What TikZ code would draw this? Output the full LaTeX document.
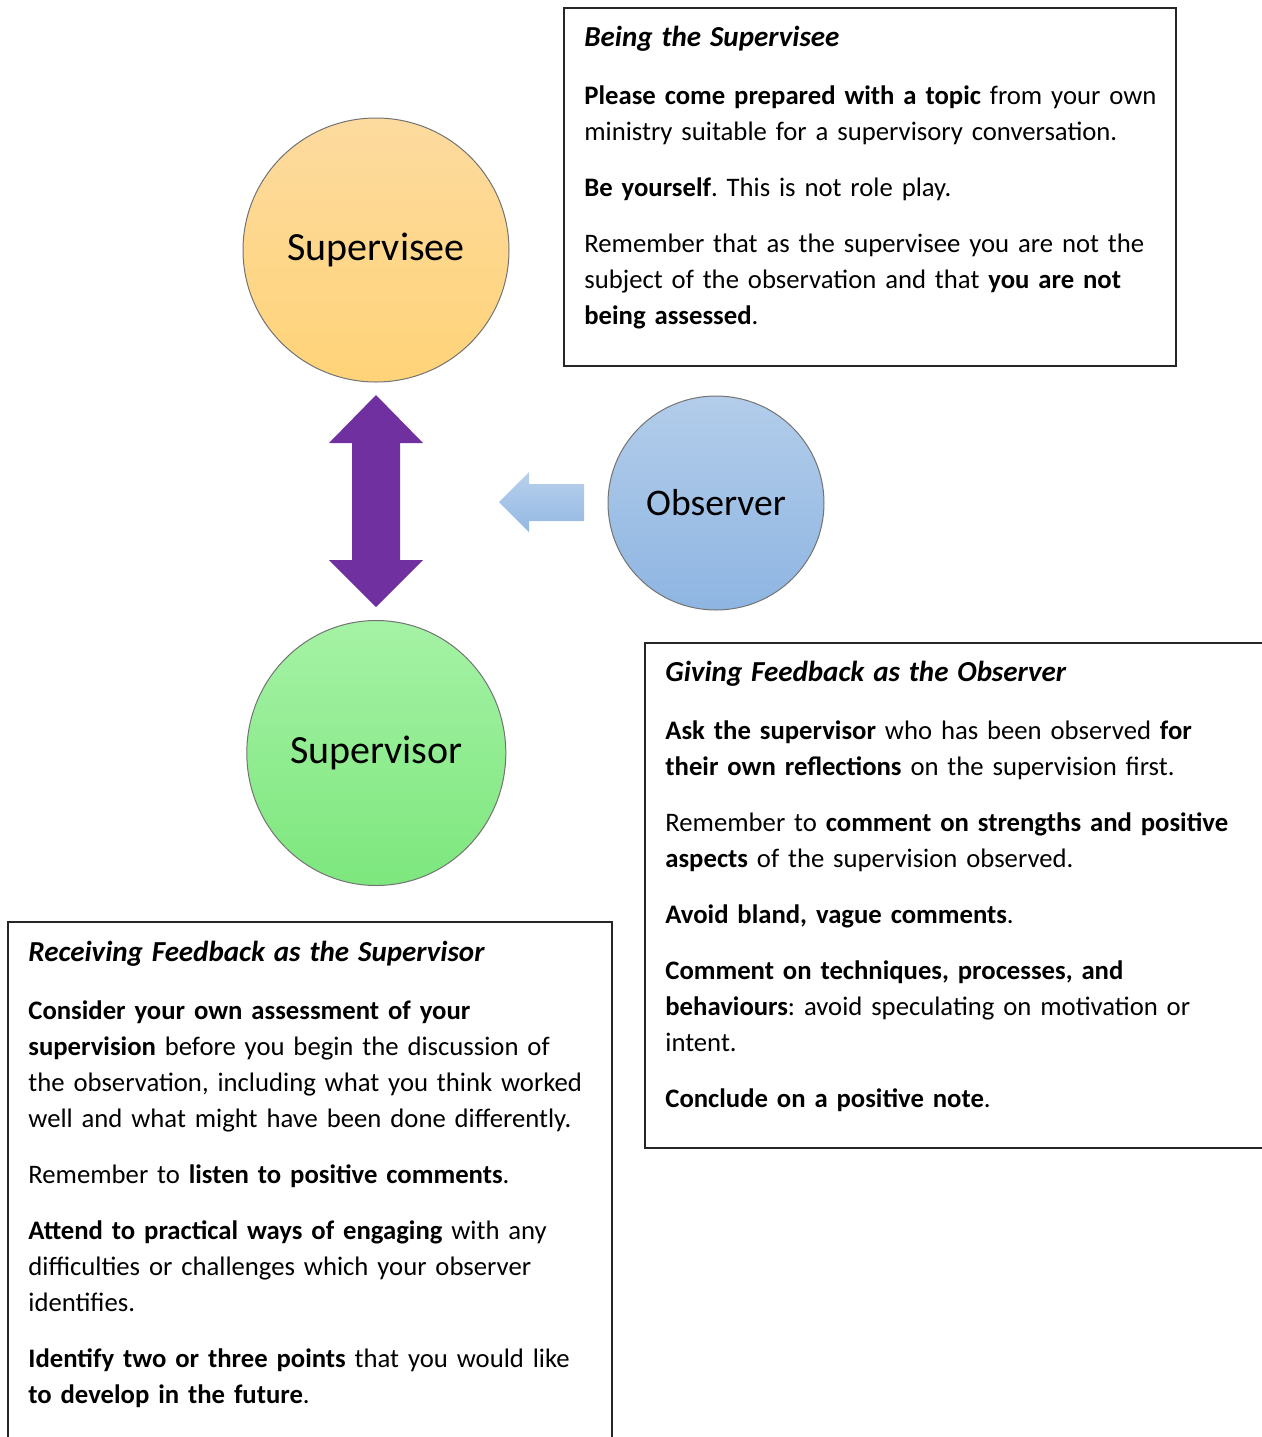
\documentclass[tikz,border=0pt]{standalone}
\usepackage{fontspec}
\setmainfont{Carlito}
\usetikzlibrary{shapes.geometric}
\definecolor{seetop}{HTML}{FDDB9F}
\definecolor{seebot}{HTML}{FFD378}
\definecolor{obstop}{HTML}{B3CDEA}
\definecolor{obsbot}{HTML}{8EB5E2}
\definecolor{sortop}{HTML}{A5F2A5}
\definecolor{sorbot}{HTML}{7DE77D}
\definecolor{arrowpurple}{HTML}{7030A0}
\definecolor{arrowtop}{HTML}{B8D0EC}
\definecolor{arrowbot}{HTML}{94B8E3}
\tikzset{
  role/.style={ellipse,draw=black!55,line width=0.5pt,inner sep=0pt,
    font=\fontsize{20}{24}\selectfont},
  note/.style={anchor=north west,inner sep=0pt,text width=330pt,align=left,
    font=\fontsize{13.35}{18}\selectfont\frenchspacing},
  frame/.style={draw=black!85,line width=1pt}
}
\newcommand{\heading}[1]{\strut{\fontsize{14.5}{18}\selectfont\textbf{\textit{#1}}}}

\begin{document}
\begin{tikzpicture}[x=0.5pt,y=-0.5pt]
  \useasboundingbox (0,0) rectangle (1262,1437);

  % the three roles
  \node (SEE) at (376,250) [role,top color=seetop,bottom color=seebot,
    minimum width=133pt,minimum height=132pt] {Supervisee};
  \node (OBS) at (716,503) [role,top color=obstop,bottom color=obsbot,
    minimum width=108pt,minimum height=107pt,
    font=\fontsize{18.8}{22}\selectfont] {Observer};
  \node (SOR) at (376.3,753) [role,top color=sortop,bottom color=sorbot,
    minimum width=129.5pt,minimum height=132.5pt] {Supervisor};

  % block arrows
  \fill[arrowpurple] (376,395) -- (423,443) -- (400,443) -- (400,560)
    -- (423,560) -- (376,607) -- (329,560) -- (352,560) -- (352,443)
    -- (329,443) -- cycle;
  \shade[top color=arrowtop,bottom color=arrowbot] (499,502) -- (529,472)
    -- (529,484) -- (584,484) -- (584,521) -- (529,521) -- (529,532) -- cycle;

  % note boxes
  \draw[frame] (564,8) rectangle (1176,366);
  \draw[frame] (645,643) rectangle (1275,1148);
  \draw[frame] (8,922) rectangle (612,1450);

  \node (BEING) at (584,21) [note] {\heading{Being the Supervisee}\\[11pt]
    \textbf{Please come prepared with a topic} from your own\\
    ministry suitable for a supervisory conversation.\\[10pt]
    \textbf{Be yourself}. This is not role play.\\[10pt]
    Remember that as the supervisee you are not the\\
    subject of the observation and that \textbf{you are not}\\
    \textbf{being assessed}.};
  \node (GIVING) at (665,656) [note] {\heading{Giving Feedback as the Observer}\\[11pt]
    \textbf{Ask the supervisor} who has been observed \textbf{for}\\
    \textbf{their own reflections} on the supervision first.\\[10pt]
    Remember to \textbf{comment on strengths and positive}\\
    \textbf{aspects} of the supervision observed.\\[10pt]
    \textbf{Avoid bland, vague comments}.\\[10pt]
    \textbf{Comment on techniques, processes, and}\\
    \textbf{behaviours}: avoid speculating on motivation or\\
    intent.\\[10pt]
    \textbf{Conclude on a positive note}.};
  \node (RECEIVING) at (28,936) [note] {\heading{Receiving Feedback as the Supervisor}\\[11pt]
    \textbf{Consider your own assessment of your}\\
    \textbf{supervision} before you begin the discussion of\\
    the observation, including what you think worked\\
    well and what might have been done differently.\\[10pt]
    Remember to \textbf{listen to positive comments}.\\[10pt]
    \textbf{Attend to practical ways of engaging} with any\\
    difficulties or challenges which your observer\\
    identifies.\\[10pt]
    \textbf{Identify two or three points} that you would like\\
    \textbf{to develop in the future}.};
\end{tikzpicture}
\end{document}
